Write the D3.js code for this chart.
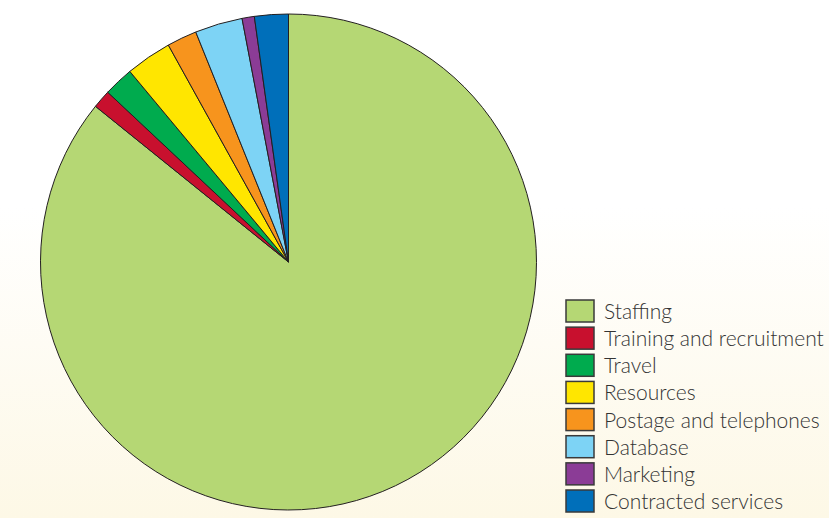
<!DOCTYPE html>
<html>
<head>
<meta charset="utf-8">
<script src="https://cdn.jsdelivr.net/npm/d3@7"></script>
<style>
  html, body { margin: 0; padding: 0; background: #fff; }
  svg { display: block; }
</style>
</head>
<body>
<svg id="chart" width="829" height="518"></svg>
<script>
const categories = ["Staffing", "Training and recruitment", "Travel", "Resources",
  "Postage and telephones", "Database", "Marketing", "Contracted services"];
const values = [85.8, 1.2, 1.95, 3.0, 1.95, 3.1, 0.8, 2.2];
const colors = ["#b5d774", "#c8102e", "#00ab4e", "#ffe600", "#f7941d", "#7dd3f5", "#8b3c96", "#006fba"];

const W = 829, H = 518;
const svg = d3.select("#chart");

const defs = svg.append("defs");
const grad = defs.append("linearGradient").attr("id", "bg").attr("x1", 0).attr("y1", 0).attr("x2", 0).attr("y2", 1);
grad.append("stop").attr("offset", "0%").attr("stop-color", "#ffffff");
grad.append("stop").attr("offset", "40%").attr("stop-color", "#ffffff");
grad.append("stop").attr("offset", "100%").attr("stop-color", "#fdf8e6");
svg.append("rect").attr("width", W).attr("height", H).attr("fill", "url(#bg)");

const data = categories.map((c, i) => ({ name: c, value: values[i], color: colors[i] }));
const pie = d3.pie().value(d => d.value).sort(null).startAngle(0).endAngle(2 * Math.PI);
const arc = d3.arc().innerRadius(0).outerRadius(248);

const g = svg.append("g").attr("transform", "translate(288.5,262)");
g.selectAll("path").data(pie(data)).join("path")
  .attr("d", arc)
  .attr("fill", d => d.data.color)
  .attr("stroke", "#231f20")
  .attr("stroke-width", 1)
  .attr("stroke-linejoin", "round");

const color = d3.scaleOrdinal().domain(categories).range(colors);
const ly = d3.scalePoint().domain(categories).range([311, 501]);

const leg = svg.append("g");
const items = leg.selectAll("g").data(categories).join("g")
  .attr("transform", d => `translate(0,${ly(d)})`);
items.append("rect")
  .attr("x", 566).attr("y", -11).attr("width", 28).attr("height", 22)
  .attr("fill", d => color(d))
  .attr("stroke", "#3a3a3a").attr("stroke-width", 1.5);
items.append("text")
  .attr("x", 604).attr("y", 8)
  .attr("font-family", "Lato, 'Open Sans', sans-serif")
  .attr("font-weight", 300)
  .attr("font-size", 21)
  .attr("fill", "#333")
  .text(d => d);
</script>
</body>
</html>
